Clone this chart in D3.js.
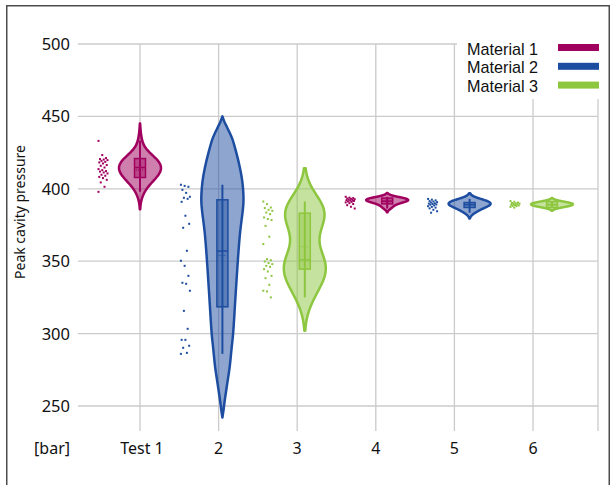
<!DOCTYPE html>
<html>
<head>
<meta charset="utf-8">
<script src="https://cdn.jsdelivr.net/npm/d3@7"></script>
<style>
  html, body { margin: 0; padding: 0; background: #fff; }
  svg { display: block; font-family: "Noto Sans", sans-serif; }
</style>
</head>
<body>
<svg id="chart" width="615" height="485"></svg>
<script>
// ---------- data ----------
const categories = ["Test 1", "2", "3", "4", "5", "6"];
const materialOf = [0, 1, 2, 0, 1, 2];
const materials = ["Material 1", "Material 2", "Material 3"];
const materialColors = ["#A0005E", "#1D4DA0", "#8DC63F"];
const yTicks = [250, 300, 350, 400, 450, 500];
const yUnit = "[bar]";
const yTitle = "Peak cavity pressure";

const pointsTest1 = [433.1, 423.3, 421.2, 420.5, 420.2, 419.8, 419.3, 418.6, 418.2, 417.5, 416.4, 415.9, 414.7, 413.6, 412.9, 412.2, 411.9, 411.3, 410.6, 409.7, 409, 408.2, 407.4, 406.2, 404.4, 401.4, 397.9];
const pointsTest2 = [402.8, 402, 401.4, 399.3, 397.2, 394.5, 393.8, 393.1, 391, 381.4, 375.8, 373.1, 357.2, 350.3, 346.8, 339.9, 335.1, 334.4, 329.6, 315.7, 303.3, 295.7, 295.7, 291.6, 290.2, 286.7, 286];
const pointsTest3 = [391.2, 389.4, 387.1, 386.7, 385.5, 384.8, 383.6, 382.5, 380.2, 379.1, 378.4, 374.4, 366.9, 361.8, 351.4, 350.7, 349.8, 348.7, 348, 346.8, 346.1, 344.5, 342.9, 339.9, 338.3, 333.7, 329.6, 329.1, 325];
const pointsTest4 = [394.5, 393.9, 393.6, 393.3, 393.1, 392.8, 392.6, 392.3, 392.1, 391.8, 391.6, 391.3, 391, 390.6, 390.1, 389.5, 388.7, 387.6, 386.4];
const pointsTest5 = [393, 392.5, 392, 391.5, 391.2, 390.8, 390.5, 390, 389.8, 389.5, 389.2, 389, 388.5, 388, 387.5, 387, 386.5, 385.5, 384.5, 383.5];
const pointsTest6 = [391.5, 391, 390.5, 390.2, 390, 389.8, 389.5, 389.3, 389, 388.8, 388.5, 388.2, 388, 387.5, 387];
const allPoints = [pointsTest1, pointsTest2, pointsTest3, pointsTest4, pointsTest5, pointsTest6];

// kernel bandwidths for the violins (null = use the profile)
const bandwidths = [6, null, 11.5, 1.3, 2, 1.1];
// Test 2 violin outline: pressure level -> relative width
const profileTest2Levels = [450, 446, 443, 435, 426, 415, 405, 396, 390, 385, 369, 346, 323, 300, 290, 277, 265, 254, 247, 242];
const profileTest2Widths = [0, 0.1, 0.2, 0.45, 0.63, 0.81, 0.93, 0.98, 0.98, 0.95, 0.82, 0.7, 0.6, 0.5, 0.43, 0.34, 0.22, 0.11, 0.05, 0];

const q1Values     = [407.8, 318.5, 344.5, 389.6, 387.1, 387.0];
const medianValues = [414.7, 357.0, 351.0, 391.5, 389.0, 389.0];
const q3Values     = [420.9, 392.4, 383.2, 393.6, 390.5, 391.2];
const meanValues   = [413.0, 354.0, 360.0, 391.2, 389.2, 389.2];

// ---------- layout ----------
const svg = d3.select("#chart");
const plot = { left: 78, right: 598, top: 44, bottom: 431 };

const y = d3.scaleLinear().domain([250, 500]).range([406, 44]);
const xAxis = d3.scalePoint().domain(categories).range([140, 533]);
const xViolin = d3.scalePoint().domain(categories).range([140, 552]);
const halfWidth = 21;
const pointOffset = -37;

// frame
svg.append("rect").attr("x", 6.75).attr("y", 5.75).attr("width", 602.5).attr("height", 520)
  .attr("fill", "none").attr("stroke", "#4d4d4d").attr("stroke-width", 1.5);

// gridlines
const grid = svg.append("g").attr("stroke", "#cbcbcb").attr("stroke-width", 1.3);
grid.selectAll("line.h").data(yTicks).join("line")
  .attr("x1", plot.left).attr("x2", plot.right)
  .attr("y1", d => y(d)).attr("y2", d => y(d));
grid.selectAll("line.v").data(categories).join("line")
  .attr("x1", d => xAxis(d)).attr("x2", d => xAxis(d))
  .attr("y1", plot.top).attr("y2", plot.bottom);
grid.append("line").attr("x1", plot.right).attr("x2", plot.right)
  .attr("y1", plot.top).attr("y2", plot.bottom);

// y tick labels
svg.append("g").selectAll("text").data(yTicks).join("text")
  .attr("x", 70).attr("y", d => y(d)).attr("dy", "0.36em")
  .attr("text-anchor", "end").attr("font-size", 16.5).attr("fill", "#111")
  .text(d => d);
svg.append("text").attr("x", 70).attr("y", 454).attr("text-anchor", "end")
  .attr("font-size", 16).attr("fill", "#111").text(yUnit);
svg.append("text").attr("transform", "translate(25,212) rotate(-90)")
  .attr("text-anchor", "middle").attr("font-size", 14).attr("fill", "#111").text(yTitle);

// x labels
svg.append("g").selectAll("text").data(categories).join("text")
  .attr("x", d => xAxis(d) + (d === "Test 1" ? 2 : 0)).attr("y", 454)
  .attr("text-anchor", "middle").attr("font-size", 16).attr("fill", "#111")
  .text(d => d);

// ---------- violins ----------
function kde(values, bw, n) {
  const [lo, hi] = d3.extent(values);
  const a = lo - 2 * bw, b = hi + 2 * bw;
  return d3.range(n + 1).map(i => {
    const v = a + (b - a) * i / n;
    return [v, d3.mean(values, p => Math.exp(-0.5 * ((v - p) / bw) ** 2))];
  });
}

const marks = svg.append("g");
categories.forEach((cat, i) => {
  const col = materialColors[materialOf[i]];
  const cx = xViolin(cat);
  const pts = allPoints[i];
  const dens = bandwidths[i] === null
    ? profileTest2Levels.map((v, k) => [v, profileTest2Widths[k]])
    : kde(pts, bandwidths[i], 120);
  const w = d3.scaleLinear().domain([0, d3.max(dens, d => d[1])]).range([0, halfWidth]);
  const g = marks.append("g");

  // jittered points
  g.selectAll("rect").data(pts).join("rect")
    .attr("x", (d, j) => cx + pointOffset + ((j * 5) % 13 - 6) * 0.75 - 1)
    .attr("y", d => y(d) - 1)
    .attr("width", 2).attr("height", 2).attr("fill", col);

  const area = d3.area()
    .y(d => y(d[0]))
    .x0(d => cx - w(d[1]))
    .x1(d => cx + w(d[1]))
    .curve(bandwidths[i] === null ? d3.curveCatmullRom : d3.curveBasis);
  g.append("path").datum(dens).attr("d", area)
    .attr("fill", col).attr("fill-opacity", 0.5)
    .attr("stroke", col).attr("stroke-width", 2.5).attr("stroke-linejoin", "round");

  const [mn, mx] = d3.extent(pts);
  g.append("line").attr("x1", cx).attr("x2", cx).attr("y1", y(mx)).attr("y2", y(mn))
    .attr("stroke", col).attr("stroke-width", 2);
  const bw = 11;
  g.append("rect").attr("x", cx - bw / 2).attr("width", bw)
    .attr("y", y(q3Values[i])).attr("height", y(q1Values[i]) - y(q3Values[i]))
    .attr("fill", col).attr("fill-opacity", 0.45)
    .attr("stroke", col).attr("stroke-width", 1.5);
  g.append("line").attr("x1", cx - bw / 2).attr("x2", cx + bw / 2)
    .attr("y1", y(medianValues[i])).attr("y2", y(medianValues[i]))
    .attr("stroke", col).attr("stroke-width", 1.5);
  g.append("line").attr("x1", cx - bw / 2 + 1.5).attr("x2", cx + bw / 2 - 1.5)
    .attr("y1", y(meanValues[i])).attr("y2", y(meanValues[i]))
    .attr("stroke", col).attr("stroke-width", 1).attr("stroke-dasharray", "1,1");
});

// ---------- legend ----------
const legend = svg.append("g");
legend.append("rect").attr("x", 457).attr("y", 28).attr("width", 151).attr("height", 71).attr("fill", "#fff");
materials.forEach((m, i) => {
  legend.append("text").attr("x", 467).attr("y", 55 + i * 18.4)
    .attr("font-family", "'Liberation Sans', Arial, sans-serif")
    .attr("font-size", 16.2).attr("fill", "#111").text(m);
  legend.append("rect").attr("x", 558).attr("y", 44 + i * 18.8).attr("width", 41).attr("height", 7)
    .attr("fill", materialColors[i]);
});
</script>
</body>
</html>
